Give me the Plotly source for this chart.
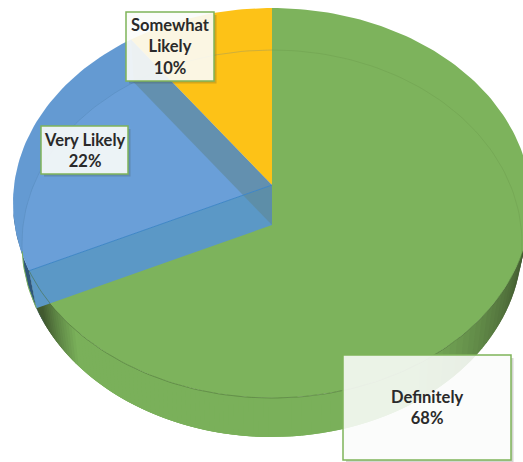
import math
import plotly.graph_objects as go

# Data
labels = ["Definitely", "Very Likely", "Somewhat Likely"]
label_lines = ["Definitely<br>68%", "Very Likely<br>22%", "Somewhat<br>Likely<br>10%"]
values = [68, 22, 10]

W, H = 523, 462
GREEN = "#7DB35C"
BLUE = "#6A9FD8"
YELLOW = "#FDC217"
BORDER = "#7FB45A"
S = 0.75
TOP = dict(ax=272, ay=185, cx=272, cy=203, rx=259, ry=195)
BOT = dict(ax=272, ay=225, cx=272, cy=243.5, rx=250, ry=193.5)


def rim(deg, e):
    """Perspective pie: ray from the apex at a clockwise angle, to the ellipse."""
    t = math.radians(deg)
    dx, dy = math.sin(t), -math.cos(t) * S
    px, py = (e["ax"] - e["cx"]) / e["rx"], (e["ay"] - e["cy"]) / e["ry"]
    qx, qy = dx / e["rx"], dy / e["ry"]
    a = qx * qx + qy * qy
    b = 2 * (px * qx + py * qy)
    c = px * px + py * py - 1
    k = (-b + math.sqrt(b * b - 4 * a * c)) / (2 * a)
    return e["ax"] + k * dx, e["ay"] + k * dy


def arc(a, b, e, n=90):
    return [rim(a + (b - a) * i / n, e) for i in range(n + 1)]


def poly(pts, fill, line=None, width=0):
    return go.Scatter(
        x=[p[0] for p in pts] + [pts[0][0]],
        y=[p[1] for p in pts] + [pts[0][1]],
        mode="lines",
        fill="toself",
        fillcolor=fill,
        line=dict(color=line or "rgba(0,0,0,0)", width=width),
        hoverinfo="skip",
        showlegend=False,
    )


def stroke(pts, color, width=1):
    return go.Scatter(
        x=[p[0] for p in pts],
        y=[p[1] for p in pts],
        mode="lines",
        line=dict(color=color, width=width),
        hoverinfo="skip",
        showlegend=False,
    )


def mix(c1, c2, f):
    f = max(0, min(1, f))
    return "rgb(%d,%d,%d)" % tuple(c1[i] + (c2[i] - c1[i]) * f for i in range(3))


# Clockwise from 12 o'clock: green, then blue, then yellow
g_end = 360 * values[0] / 100
b_end = g_end + 360 * values[1] / 100

traces = []

# Outer wall of the green slice, darkening toward the silhouette edges
LIGHT, DARK = (122, 176, 90), (66, 90, 48)
d = 90
while d < 180:
    f = (148 - d) / 42 if d < 148 else 0
    q = [rim(d, TOP), rim(d + 4, TOP), rim(d + 4, BOT), rim(d, BOT)]
    traces.append(poly(q, mix(LIGHT, DARK, f)))
    d += 2
# left part: painted from the dark edge inward so the steps stay hidden
d = g_end
while d > 180:
    s = max(d - 3, 180)
    f = (d - 226) / 14 if d > 226 else 0
    q = [rim(s, TOP), rim(d, TOP), rim(d, BOT), rim(s, BOT)]
    traces.append(poly(q, mix(LIGHT, DARK, f)))
    d -= 1

# Dark sliver of the blue slice's outer wall
q = arc(g_end, 262, TOP, 20) + arc(262, g_end, BOT, 20)
traces.append(poly(q, "#2F5274"))

# Top faces
apex = (TOP["ax"], TOP["ay"])
apex_b = (BOT["ax"], BOT["ay"])
traces.append(poly([apex] + arc(0, g_end, TOP, 180), GREEN))
traces.append(poly([apex] + arc(g_end, b_end, TOP, 60), BLUE))
traces.append(poly([apex] + arc(b_end, 360, TOP, 30), YELLOW))

# Outer rim tint above the far bottom edge
traces.append(poly(arc(g_end, b_end, TOP, 60) + arc(b_end, g_end, BOT, 60), "rgba(60,120,170,0.12)"))

# Cut walls of the blue slice, seen through the transparent top
traces.append(poly([apex, apex_b, rim(g_end, BOT), rim(g_end, TOP)], "#5B98C6"))
traces.append(
    poly([apex, apex_b, rim(b_end, BOT), rim(b_end, TOP)], "rgba(96,135,150,0.62)")
)
traces.append(stroke([apex, rim(g_end, TOP)], "#3F86C8", 1))

# Faint far edge of the lower disc
traces.append(stroke(arc(240, 360, BOT, 80), "rgba(70,120,160,0.25)"))
traces.append(stroke(arc(0, 100, BOT, 60), "rgba(90,130,60,0.2)"))
traces.append(stroke(arc(g_end, 262, BOT, 10), "rgba(120,175,80,0.9)", 1))
# Line where the top meets the green wall
traces.append(stroke(arc(110, g_end, TOP, 100), "rgba(70,105,50,0.5)", 1))

fig = go.Figure(traces)

# Label boxes: (left, top, right, bottom) by slice
boxes = [(343, 355, 511, 460), (41, 126, 128, 174), (126, 12, 214, 81)]
alpha = [0.88, 0.9, 0.9]
shapes, annos = [], []
for (x0, y0, x1, y1), txt, a in zip(boxes, label_lines, alpha):
    # soft shadow only along the outer right and bottom edges
    for sx0, sy0, sx1, sy1 in [(x1, y0 + 3, x1 + 2.5, y1 + 2.5), (x0 + 3, y1, x1, y1 + 2.5)]:
        shapes.append(dict(type="rect", x0=sx0, x1=sx1, y0=sy0, y1=sy1,
                           fillcolor="rgba(60,70,50,0.22)", line=dict(width=0), layer="above"))
    shapes.append(dict(type="rect", x0=x0, x1=x1, y0=y0, y1=y1,
                       fillcolor=f"rgba(251,252,250,{a})", line=dict(color=BORDER, width=1.5),
                       layer="above"))
    annos.append(dict(x=(x0 + x1) / 2, y=(y0 + y1) / 2, text=f"<b>{txt}</b>", showarrow=False,
                      xanchor="center", yanchor="middle", align="center",
                      font=dict(family="Lato, Carlito, sans-serif", size=16.5, color="#2A2A2A")))

fig.update_layout(
    width=W, height=H,
    margin=dict(l=0, r=0, t=0, b=0),
    paper_bgcolor="white", plot_bgcolor="white",
    showlegend=False,
    xaxis=dict(range=[0, W], visible=False, fixedrange=True),
    yaxis=dict(range=[H, 0], visible=False, fixedrange=True),
    shapes=shapes, annotations=annos,
)
fig.write_html("out.html", config={"displayModeBar": False},
               post_script="document.body.style.margin='0';document.body.style.overflow='hidden';")
